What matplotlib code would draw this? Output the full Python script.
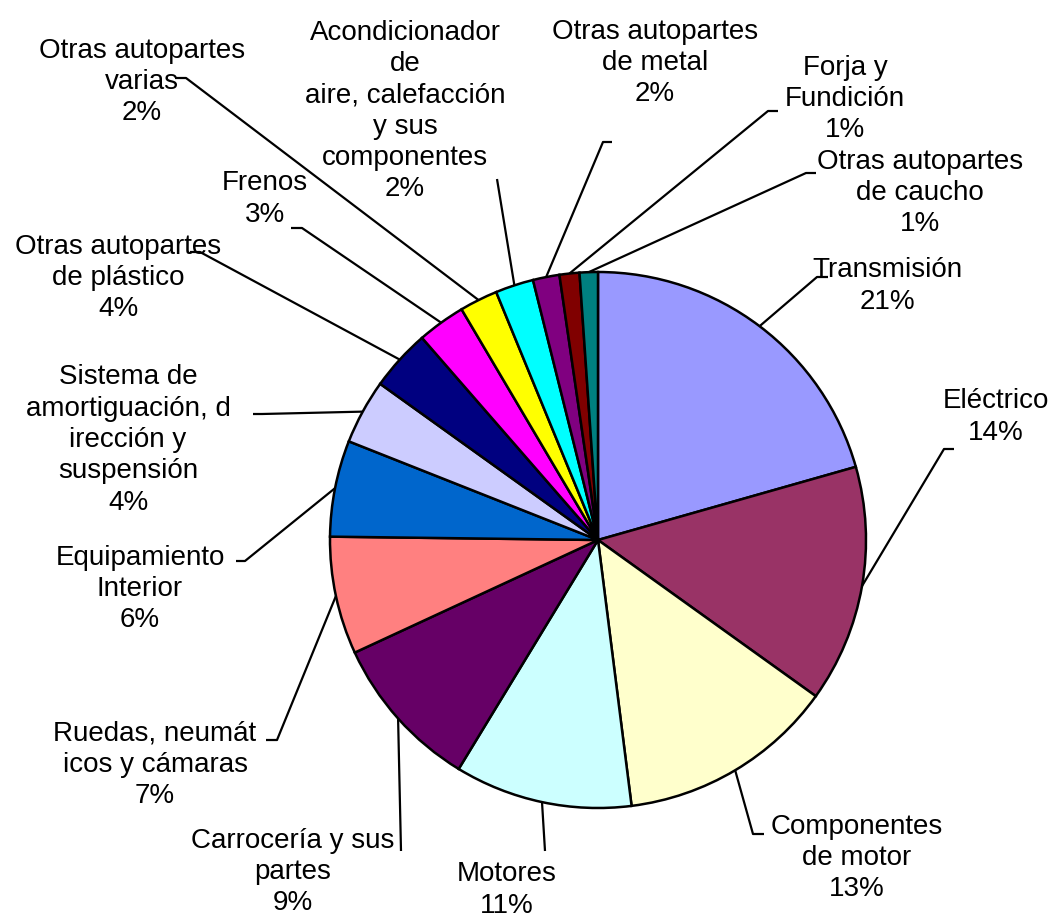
import numpy as np
import matplotlib
matplotlib.use("Agg")
import matplotlib.pyplot as plt

plt.rcParams['font.family'] = ['Liberation Sans', 'DejaVu Sans']

# Data: share of each auto-part segment (percent)
categories = ['Transmisión', 'Eléctrico', 'Componentes\nde motor', 'Motores',
              'Carrocería y sus\npartes', 'Ruedas, neumát\nicos y cámaras',
              'Equipamiento\nInterior',
              'Sistema de\namortiguación, d\nirección y\nsuspensión',
              'Otras autopartes\nde plástico', 'Frenos', 'Otras autopartes\nvarias',
              'Acondicionador\nde\naire, calefacción\ny sus\ncomponentes',
              'Otras autopartes\nde metal', 'Forja y\nFundición',
              'Otras autopartes\nde caucho']
values = [20.6, 14.3, 13.1, 10.7, 9.4, 7.1, 5.8, 3.9, 3.7, 2.9, 2.3, 2.3, 1.6, 1.2, 1.1]
colors = ['#9999FF', '#993366', '#FFFFCC', '#CCFFFF', '#660066', '#FF8080',
          '#0066CC', '#CCCCFF', '#000080', '#FF00FF', '#FFFF00', '#00FFFF',
          '#800080', '#800000', '#008080']

# Layout (pixel coords from top-left): label centre, leader elbow, leader end x
label_xy = [(887, 286), (996, 417), (857, 858), (507, 890), (293, 872), (155, 765),
            (140, 589), (128, 440), (118, 278), (265, 199), (142, 82), (405, 111),
            (655, 63), (845, 99), (920, 193)]
elbow_xy = [(817, 278), (944, 450), (753, 835), (545, 852), (401, 852), (277, 741),
            (245, 562), (262, 415), (200, 253), (302, 229), (186, 79), (497, 180),
            (603, 143), (768, 112), (806, 174)]
end_x = [828, 954, 764, 545, 401, 266, 236, 253, 190, 291, 175, 497, 612, 778, 816]

W, H = 1054, 920
cx, cy, R = 598, 541, 268

fig = plt.figure(figsize=(W / 100, H / 100), dpi=100)
ax = fig.add_axes([0, 0, 1, 1])

wedges, _ = ax.pie(values, colors=colors, startangle=90, counterclock=False,
                   center=(cx, H - cy), radius=R,
                   wedgeprops=dict(edgecolor='black', linewidth=1.8))

for w, lab, v, (lx, ly), (ex, ey), xe in zip(wedges, categories, values,
                                              label_xy, elbow_xy, end_x):
    mid = np.deg2rad((w.theta1 + w.theta2) / 2)
    px = cx + R * np.cos(mid)
    py = (H - cy) + R * np.sin(mid)
    ax.plot([px, ex, xe], [py, H - ey, H - ey], color='black', lw=1.6,
            solid_capstyle='butt', zorder=0.5)
    ax.text(lx, H - ly, f"{lab}\n{round(v)}%", ha='center', va='center',
            multialignment='center', fontsize=20, linespacing=1.27)

ax.set_xlim(0, W)
ax.set_ylim(0, H)
ax.set_aspect('equal')
ax.axis('off')

fig.savefig("out.png", dpi=100, facecolor='white')
